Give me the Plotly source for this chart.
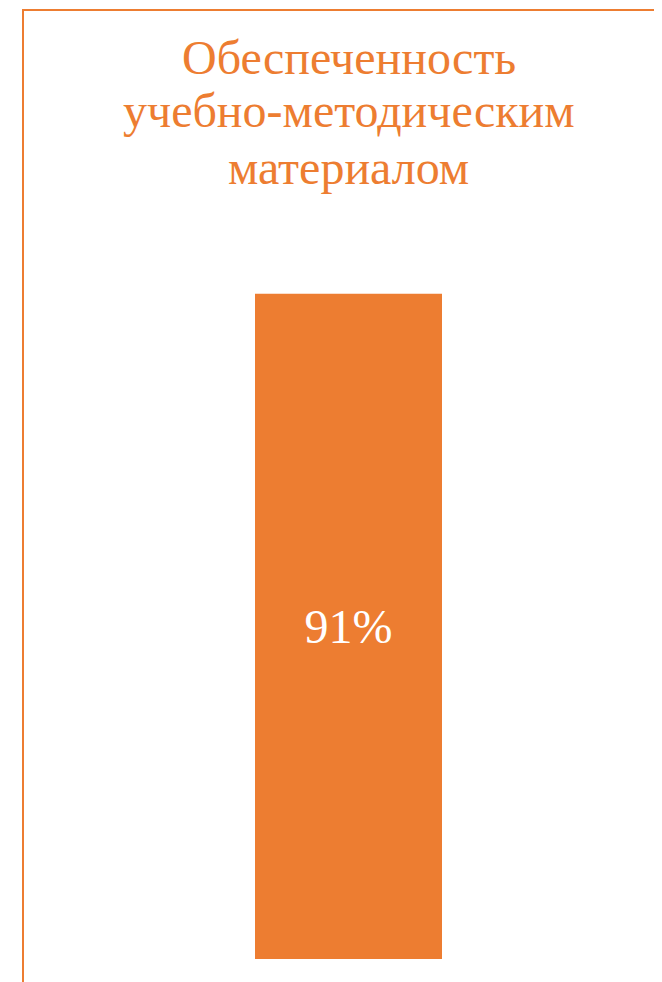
import plotly.graph_objects as go

categories = ["Обеспеченность учебно-методическим материалом"]
values = [91]
labels = ["91%"]
title_lines = ["Обеспеченность", "учебно-методическим", "материалом"]

ORANGE = "#ED7D31"
# page body keeps its default 8px margin; the figure fills the rest of the window
W, H = 654, 974
ml, mr, mt, mb = 27, 0, 220, 23
pw, ph = W - ml - mr, H - mt - mb

fig = go.Figure(go.Bar(
    x=categories, y=values, text=labels, textposition="inside",
    insidetextanchor="middle",
    textfont=dict(family="Liberation Serif", size=48, color="white"),
    marker=dict(color=ORANGE, line=dict(width=0)),
    hoverinfo="skip",
))

def px_x(p):
    return (p - ml) / pw

def px_y(p):
    return (H - mb - p) / ph

title_baselines = [67, 120, 177]
annotations = [
    dict(text=t, xref="paper", yref="paper", x=0.5, xanchor="center",
         y=px_y(b + 11), yanchor="bottom", showarrow=False,
         font=dict(family="Liberation Serif", size=48, color=ORANGE))
    for t, b in zip(title_lines, title_baselines)
]

fig.update_layout(
    width=W, height=H,
    margin=dict(l=ml, r=mr, t=mt, b=mb),
    paper_bgcolor="white", plot_bgcolor="white",
    bargap=1 - 187 / pw,
    showlegend=False,
    xaxis=dict(visible=False),
    yaxis=dict(visible=False, range=[0, 100]),
    annotations=annotations,
    shapes=[
        dict(type="line", xref="paper", yref="paper", x0=px_x(15), x1=px_x(15),
             y0=px_y(2), y1=px_y(H + 5), line=dict(color=ORANGE, width=2)),
        dict(type="line", xref="paper", yref="paper", x0=px_x(14), x1=px_x(W + 5),
             y0=px_y(2), y1=px_y(2), line=dict(color=ORANGE, width=2)),
    ],
)

fig.write_html("out.html")
